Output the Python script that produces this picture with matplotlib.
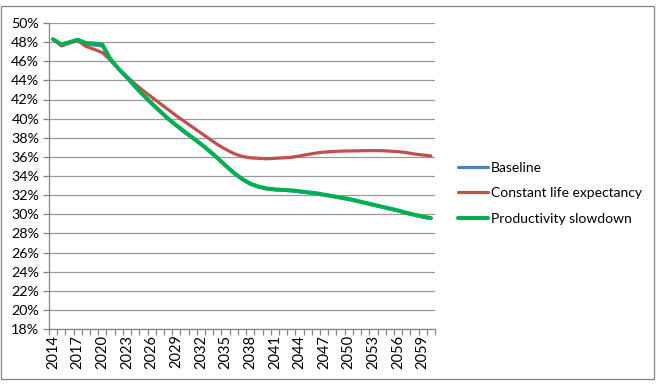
import matplotlib
matplotlib.use("Agg")
import matplotlib.pyplot as plt
from matplotlib.patches import Rectangle
from matplotlib.ticker import FixedLocator, FuncFormatter

years = list(range(2014, 2061))

baseline = [48.3, 47.7, 47.95, 48.2, 47.8, 47.7, 47.6, 46.1, 45.15, 44.25,
            43.3, 42.4, 41.55, 40.75, 39.95, 39.25, 38.55, 37.95, 37.3, 36.6,
            35.85, 35.05, 34.3, 33.65, 33.15, 32.85, 32.65, 32.55, 32.5, 32.45,
            32.35, 32.25, 32.15, 32.0, 31.85, 31.7, 31.55, 31.35, 31.15, 30.95,
            30.75, 30.55, 30.35, 30.1, 29.9, 29.7, 29.55]

constant_life = [48.3, 47.6, 47.9, 48.15, 47.55, 47.25, 46.9, 46.1, 45.2, 44.4,
                 43.6, 42.9, 42.25, 41.6, 40.95, 40.3, 39.7, 39.1, 38.5, 37.9,
                 37.3, 36.8, 36.35, 36.05, 35.9, 35.85, 35.8, 35.85, 35.9, 35.95,
                 36.1, 36.25, 36.4, 36.5, 36.55, 36.6, 36.62, 36.63, 36.65, 36.66,
                 36.65, 36.6, 36.55, 36.45, 36.3, 36.2, 36.1]

productivity = [48.3, 47.75, 48.0, 48.25, 47.9, 47.85, 47.75, 46.2, 45.2, 44.3,
                43.35, 42.45, 41.6, 40.8, 40.0, 39.3, 38.65, 38.0, 37.35, 36.65,
                35.9, 35.1, 34.35, 33.7, 33.2, 32.9, 32.7, 32.6, 32.55, 32.5,
                32.4, 32.3, 32.2, 32.05, 31.9, 31.75, 31.6, 31.4, 31.2, 31.0,
                30.8, 30.6, 30.4, 30.15, 29.95, 29.75, 29.6]

series_names = ["Baseline", "Constant life expectancy", "Productivity slowdown"]
series_colors = ["#4F81BD", "#C0504D", "#00B050"]
y_ticks = list(range(18, 51, 2))
x_label_years = list(range(2014, 2060, 3))

plt.rcParams['font.family'] = ['Lato', 'DejaVu Sans']

fig = plt.figure(figsize=(6.64, 3.88), dpi=100)
fig.patches.append(Rectangle((1/664, 1 - 379/388), 653/664, 373/388,
                             transform=fig.transFigure, fill=False,
                             edgecolor="#868686", linewidth=0.9))

ax = fig.add_axes([49/664, 1 - 329/388, 386/664, 306/388])

xs = list(range(len(years)))
ax.plot(xs, baseline, color=series_colors[0], lw=2.3, label=series_names[0],
        solid_joinstyle="round", solid_capstyle="round", zorder=3)
ax.plot(xs, constant_life, color=series_colors[1], lw=2.3, label=series_names[1],
        solid_joinstyle="round", solid_capstyle="round", zorder=4)
ax.plot(xs, productivity, color=series_colors[2], lw=2.9, label=series_names[2],
        solid_joinstyle="round", solid_capstyle="round", zorder=5)

ax.set_xlim(-0.5, len(years) - 0.5)
ax.set_ylim(18, 50)
ax.set_yticks(y_ticks)
ax.yaxis.set_major_formatter(FuncFormatter(lambda v, p: f"{int(round(v))}%"))
ax.grid(axis="y", color="#9a9a9a", linewidth=0.9)
ax.set_axisbelow(True)

label_pos = [years.index(y) for y in x_label_years]
ax.xaxis.set_major_locator(FixedLocator(label_pos))
ax.set_xticklabels([str(y) for y in x_label_years], rotation=90)
ax.xaxis.set_minor_locator(FixedLocator([i - 0.5 for i in range(len(years) + 1)]))
ax.tick_params(axis="x", which="major", length=0, pad=4, labelsize=10.5)
ax.tick_params(axis="x", which="minor", length=4, color="#868686", width=0.9)
ax.tick_params(axis="y", which="major", length=4, color="#868686", width=0.9,
               labelsize=10.3, pad=3)

for s in ["top", "right"]:
    ax.spines[s].set_visible(False)
for s in ["left", "bottom"]:
    ax.spines[s].set_color("#868686")
    ax.spines[s].set_linewidth(0.9)

leg = fig.legend(loc="upper left", bbox_to_anchor=(452/664, 1 - 156/388),
                 frameon=False, fontsize=10.0, handlelength=2.2, handletextpad=0.2,
                 labelspacing=0.98, borderaxespad=0)

fig.savefig("out.png", dpi=100)
